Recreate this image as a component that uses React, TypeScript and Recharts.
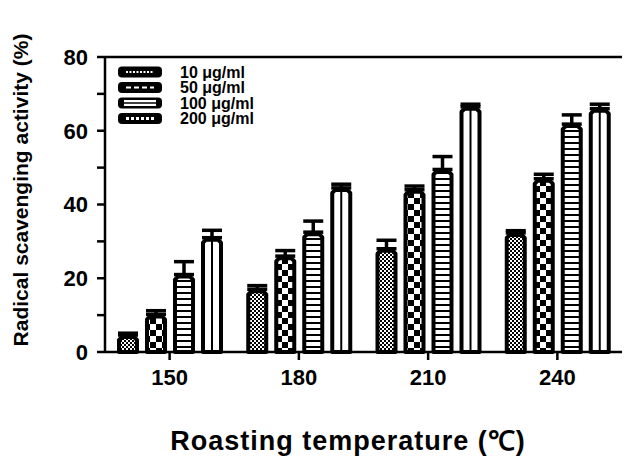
import React from "react";
import {
  BarChart,
  Bar,
  XAxis,
  YAxis,
  ErrorBar,
  ReferenceLine,
  Legend,
  Label,
} from "recharts";

// roasting temperature (°C)
const categories = ["150", "180", "210", "240"];

// radical scavenging activity (%), by extract concentration
const conc10 = [4.6, 17, 28, 32.3];
const err10 = [0.5, 1, 2.3, 0.6];
const conc50 = [10.2, 26, 44, 47];
const err50 = [1, 1.5, 1, 1.2];
const conc100 = [21, 32.5, 49.5, 61.8];
const err100 = [3.5, 3, 3.5, 2.5];
const conc200 = [31, 44.5, 66.5, 66];
const err200 = [2, 1, 0.7, 1.2];

const yTicks = [0, 10, 20, 30, 40, 50, 60, 70, 80];

const seriesNames = ["10 μg/ml", "50 μg/ml", "100 μg/ml", "200 μg/ml"];

const data = categories.map((temp, i) => ({
  temp,
  c10: conc10[i],
  e10: [0, err10[i]],
  c50: conc50[i],
  e50: [0, err50[i]],
  c100: conc100[i],
  e100: [0, err100[i]],
  c200: conc200[i],
  e200: [0, err200[i]],
}));

const FONT = "'Liberation Sans', Arial, sans-serif";

const makeShape = (fill: string, centerLine = false) => (props: any) => {
  const { x, y, width, height } = props;
  if (!height || height <= 0) return null;
  const sw = 4;
  const l = x + sw / 2;
  const r = x + width - sw / 2;
  const t = y + sw / 2;
  const b = y + height;
  const c = 3;
  const d = `M${l},${b} L${l},${t + c} L${l + c},${t} L${r - c},${t} L${r},${t + c} L${r},${b} Z`;
  return (
    <g>
      <path d={d} fill={fill} stroke="#000" strokeWidth={sw} strokeLinejoin="round" />
      {centerLine && (
        <line x1={x + width / 2} x2={x + width / 2} y1={t} y2={b} stroke="#000" strokeWidth={2} />
      )}
    </g>
  );
};

const LegendBox = () => {
  const rows = [0, 1, 2, 3];
  return (
    <svg width={180} height={80} style={{ position: "absolute", left: 116, top: 62 }}>
      {rows.map((i) => {
        const cy = 10 + i * 15.5;
        return (
          <g key={i}>
            <rect x={2} y={cy - 5.5} width={44} height={11} rx={4} fill="#000" />
            {i === 0 && (
              <line x1={10} x2={38} y1={cy} y2={cy} stroke="#fff" strokeWidth={2} strokeDasharray="2 1.5" />
            )}
            {i === 1 && (
              <line x1={10} x2={38} y1={cy} y2={cy} stroke="#fff" strokeWidth={2} strokeDasharray="5 3" />
            )}
            {i === 2 && (
              <g>
                <rect x={8} y={cy - 3} width={32} height={6} fill="#fff" />
                <line x1={8} x2={40} y1={cy} y2={cy} stroke="#000" strokeWidth={1.5} />
              </g>
            )}
            {i === 3 && (
              <line x1={10} x2={38} y1={cy} y2={cy} stroke="#fff" strokeWidth={3} strokeDasharray="3 2" />
            )}
            <text
              x={64}
              y={cy + 5.5}
              fontFamily={FONT}
              fontWeight="bold"
              fontSize={16}
              fill="#000"
            >
              {seriesNames[i]}
            </text>
          </g>
        );
      })}
    </svg>
  );
};

export default function App() {
  const tickStyle = { fill: "#000", fontSize: 22, fontWeight: "bold", fontFamily: FONT };
  return (
    <div style={{ position: "absolute", left: 0, top: 0, width: 625, height: 467, background: "#fff" }}>
      <BarChart
        width={625}
        height={467}
        data={data}
        margin={{ top: 57, right: 3, bottom: 0, left: 0 }}
        barGap={6}
      >
        <defs>
          <pattern id="checkFine" width={4} height={4} patternUnits="userSpaceOnUse">
            <rect width={4} height={4} fill="#fff" />
            <rect width={2} height={2} fill="#000" />
            <rect x={2} y={2} width={2} height={2} fill="#000" />
          </pattern>
          <pattern id="checkCoarse" width={12} height={12} patternUnits="userSpaceOnUse">
            <rect width={12} height={12} fill="#fff" />
            <rect width={6} height={6} fill="#000" />
            <rect x={6} y={6} width={6} height={6} fill="#000" />
          </pattern>
          <pattern id="hStripes" width={6} height={6} patternUnits="userSpaceOnUse">
            <rect width={6} height={6} fill="#fff" />
            <rect y={4} width={6} height={2} fill="#000" />
          </pattern>
        </defs>
        <XAxis
          dataKey="temp"
          height={115}
          tick={tickStyle}
          tickSize={8}
          tickMargin={9}
          axisLine={{ stroke: "#000", strokeWidth: 2.5 }}
          tickLine={{ stroke: "#000", strokeWidth: 2.5 }}
        >
          <Label
            content={() => (
              <text
                x={348}
                y={450}
                textAnchor="middle"
                fontFamily={FONT}
                fontWeight="bold"
                fontSize={27}
                letterSpacing={1}
                fill="#000"
              >
                Roasting temperature (℃)
              </text>
            )}
          />
        </XAxis>
        <YAxis
          width={105}
          domain={[0, 80]}
          ticks={yTicks}
          interval={0}
          tickFormatter={(v: number) => (v % 20 === 0 ? String(v) : "")}
          tick={tickStyle}
          tickSize={8}
          tickMargin={9}
          axisLine={{ stroke: "#000", strokeWidth: 2.5 }}
          tickLine={{ stroke: "#000", strokeWidth: 2.5 }}
        >
          <Label
            content={() => (
              <text
                x={0}
                y={0}
                transform="translate(28,190) rotate(-90)"
                textAnchor="middle"
                fontFamily={FONT}
                fontWeight="bold"
                fontSize={21}
                fill="#000"
              >
                Radical scavenging activity (%)
              </text>
            )}
          />
        </YAxis>
        <ReferenceLine y={80} stroke="#000" strokeWidth={2.5} />
        <Bar dataKey="c10" name={seriesNames[0]} barSize={22} isAnimationActive={false} shape={makeShape("url(#checkFine)")}>
          <ErrorBar dataKey="e10" direction="y" width={10} stroke="#000" strokeWidth={3.5} />
        </Bar>
        <Bar dataKey="c50" name={seriesNames[1]} barSize={22} isAnimationActive={false} shape={makeShape("url(#checkCoarse)")}>
          <ErrorBar dataKey="e50" direction="y" width={10} stroke="#000" strokeWidth={3.5} />
        </Bar>
        <Bar dataKey="c100" name={seriesNames[2]} barSize={22} isAnimationActive={false} shape={makeShape("url(#hStripes)")}>
          <ErrorBar dataKey="e100" direction="y" width={10} stroke="#000" strokeWidth={3.5} />
        </Bar>
        <Bar dataKey="c200" name={seriesNames[3]} barSize={22} isAnimationActive={false} shape={makeShape("#fff", true)}>
          <ErrorBar dataKey="e200" direction="y" width={10} stroke="#000" strokeWidth={3.5} />
        </Bar>
        <Legend content={() => null} />
      </BarChart>
      <LegendBox />
    </div>
  );
}
